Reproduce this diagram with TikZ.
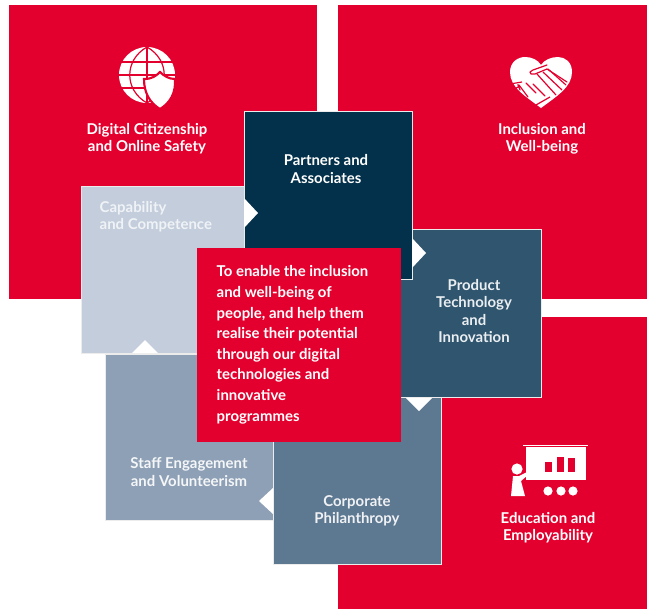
\documentclass[tikz,border=0pt]{standalone}
\usepackage{fontspec}
\setmainfont{Lato}[BoldFont={Lato Bold}]
\definecolor{brandred}{HTML}{E4002E}
\definecolor{navy}{HTML}{03314B}
\definecolor{steel}{HTML}{30556F}
\definecolor{slate}{HTML}{5D7891}
\definecolor{haze}{HTML}{8EA0B5}
\definecolor{mist}{HTML}{C3CDDC}
\tikzset{
  panel/.style={draw=#1, fill=#1, anchor=north west, inner sep=0pt, outer sep=0pt},
  block/.style={draw=white!85!gray, line width=0.7pt, fill=#1, anchor=north west, inner sep=0pt, outer sep=0pt},
  title/.style={text=white, align=center, font=\fontsize{11.2}{12.9}\selectfont\bfseries},
  pointer/.style={fill=white, draw=none},
  cut/.style={draw=brandred, line width=0.9pt},
}
\begin{document}
\begin{tikzpicture}[x=0.75pt,y=-0.75pt]
  \useasboundingbox (0,0) rectangle (647,608);

  \node[panel=brandred, minimum width=307*0.75pt, minimum height=293*0.75pt] at (9,5) (citizen) {};
  \node[panel=brandred, minimum width=309*0.75pt, minimum height=293*0.75pt] at (338,5) (inclusion) {};
  \node[panel=brandred, minimum width=309*0.75pt, minimum height=291*0.75pt] at (338,317) (education) {};

  \node[block=haze, minimum width=168*0.75pt, minimum height=166*0.75pt] at (105,354) (staff) {};
  \node[block=slate, minimum width=168*0.75pt, minimum height=167*0.75pt] at (273,397) (corporate) {};
  \node[block=mist, minimum width=163*0.75pt, minimum height=167*0.75pt] at (81,186) (capability) {};
  \node[block=steel, minimum width=168*0.75pt, minimum height=168*0.75pt] at (373,229) (product) {};
  \node[block=navy, minimum width=168*0.75pt, minimum height=168*0.75pt] at (244,111) (partners) {};
  \node[panel=brandred, minimum width=203*0.75pt, minimum height=193*0.75pt] at (197,248) (mission) {};

  \fill[pointer] (244,198) -- (258,213) -- (244,228) -- cycle;
  \fill[pointer] (412,238) -- (426,253) -- (412,268) -- cycle;
  \fill[pointer] (132,353) -- (145,340) -- (158,353) -- cycle;
  \fill[pointer] (406,398) -- (419,411) -- (432,398) -- cycle;
  \fill[pointer] (273,488) -- (259,501) -- (273,514) -- cycle;

  \node[title] at (147,139) (citizentext) {Digital Citizenship\\and Online Safety};
  \node[title] at (542,139) (inclusiontext) {Inclusion and\\Well-being};
  \node[title] at (548,528) (educationtext) {Education and\\Employability};
  \node[title] at (326,169) (partnerstext) {Partners and\\Associates};
  \node[title, text=white!75!mist, align=left, anchor=west] at (95,217) (capabilitytext) {Capability\\and Competence};
  \node[title, text=white!90!steel] at (474,311) (producttext) {Product\\Technology\\and\\Innovation};
  \node[title, text=white!90!haze] at (189,472) (stafftext) {Staff Engagement\\and Volunteerism};
  \node[title, text=white!90!slate] at (357,511) (corporatetext) {Corporate\\Philanthropy};
  \node[title, align=left, anchor=north west, font=\fontsize{11.2}{15.45}\selectfont\bfseries] at (212,261) (missiontext)
    {To enable the inclusion\\and well-being of\\people, and help them\\realise their potential\\through our digital\\technologies and\\innovative\\programmes};

  % globe and shield
  \fill[white] (147,75) circle (28);
  \draw[cut] (120,62) -- (174,62) (119,75) -- (175,75) (121,88) -- (173,88) (147,47) -- (147,103);
  \draw[cut] (147,47) .. controls (124,60) and (124,90) .. (147,103);
  \draw[cut] (147,47) .. controls (170,60) and (170,90) .. (147,103);
  \draw[brandred, fill=white, line width=1.6pt] (144,79) .. controls (152,79) and (156,76) .. (160,72)
    .. controls (164,76) and (169,79) .. (175,79) .. controls (176,93) and (170,103) .. (160,109)
    .. controls (150,103) and (144,93) .. (144,79) -- cycle;

  % heart and handshake
  \fill[white] (541,108) .. controls (525,96) and (510,87) .. (510,72) .. controls (510,62) and (518,57) .. (525,57)
    .. controls (532,57) and (538,60) .. (541,65) .. controls (544,60) and (551,57) .. (558,57)
    .. controls (565,57) and (572,62) .. (572,72) .. controls (572,87) and (557,96) .. (541,108) -- cycle;
  \draw[cut, line cap=round, line join=round] (547,65) -- (533,70) -- (530,72) -- (531,74) -- (535,74) -- (547,69) -- (567,82);
  \draw[cut] (548,69) -- (566,85) (543,72) -- (562,90) (537,74) -- (556,95);
  \draw[cut, line cap=round] (519,85) -- (518,85) -- (520,90) (519,85) -- (528,97) (526,83) -- (536,93) (533,84) -- (545,96) (518,87) -- (510,92);
  \draw[cut] (510,84) -- (522,82) (536,105) -- (550,97);

  % board and presenter
  \draw[white, line width=0.4pt] (523,445.5) -- (588,445.5);
  \fill[white] (526,447) rectangle (586,480);
  \foreach \barx/\bartop/\barw in {545/462/7, 557/457/7, 568/458/7}
    \fill[brandred] (\barx,\bartop) rectangle ++(\barw,472-\bartop);
  \foreach \dotx in {548,561,573}
    \fill[white] (\dotx,491) circle (4.6);
  \fill[white] (517,469) circle (5.6);
  \fill[white] (513,476) -- (519,476) -- (527,472) -- (528,475) -- (521,481) -- (525,496) -- (511,496) -- cycle;
\end{tikzpicture}
\end{document}
